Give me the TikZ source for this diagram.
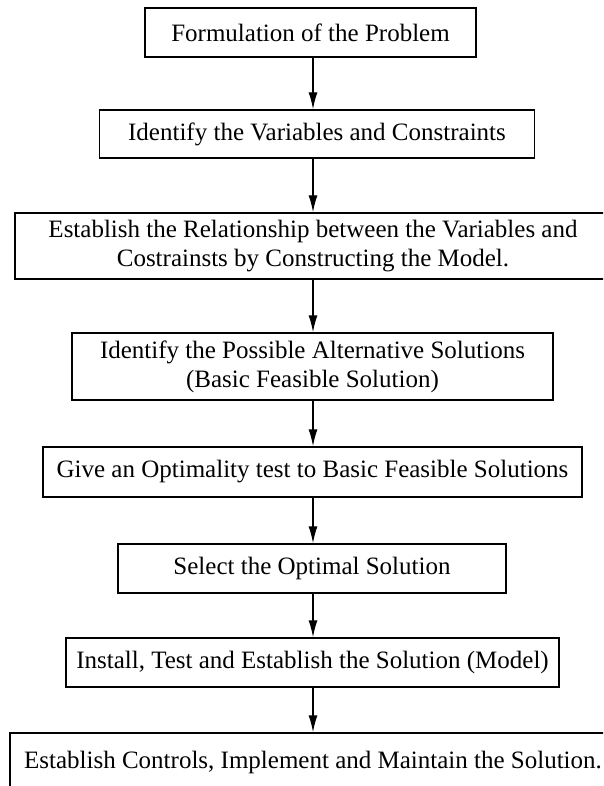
\documentclass[tikz,border=0pt]{standalone}
\usepackage{fontspec}
\setmainfont{Liberation Serif}
\usetikzlibrary{arrows.meta}

\tikzset{
  stage/.style={draw, line width=1.4pt, inner sep=2pt, align=center,
    font=\fontsize{25}{29}\selectfont},
  flow/.style={line width=1.4pt, -{Latex[length=17pt,width=9pt]}}
}

\begin{document}
\begin{tikzpicture}[x=1pt,y=-1pt]
  \useasboundingbox (0,0) rectangle (603,786);
  \clip (0,0) rectangle (603,786);
  \coordinate (axis) at (313,0);
  % Stages
  \node[stage, minimum width=331pt, minimum height=49pt] (problem) at (310.5,32.5) {Formulation of the Problem};
  \node[stage, minimum width=435pt, minimum height=48pt] (variables) at (317,134) {Identify the Variables and Constraints};
  \node[stage, minimum width=596pt, minimum height=66pt] (model) at (313,246) {Establish the Relationship between the Variables and\\Costrainsts by Constructing the Model.};
  \node[stage, minimum width=481pt, minimum height=67pt] (alternatives) at (312.5,366.5) {Identify the Possible Alternative Solutions\\(Basic Feasible Solution)};
  \node[stage, minimum width=539pt, minimum height=50pt] (optimality) at (312.5,472) {Give an Optimality test to Basic Feasible Solutions};
  \node[stage, minimum width=388pt, minimum height=49pt] (select) at (312,568.5) {Select the Optimal Solution};
  \node[stage, minimum width=493pt, minimum height=49pt] (install) at (312.5,662.5) {Install, Test and Establish the Solution (Model)};
  \node[stage, minimum width=606pt, minimum height=58pt] (controls) at (313,762) {Establish Controls, Implement and Maintain the Solution.};
  % Arrows
  \draw[flow] (problem.south -| axis) -- (variables.north -| axis);
  \draw[flow] (variables.south -| axis) -- (model.north -| axis);
  \draw[flow] (model.south -| axis) -- (alternatives.north -| axis);
  \draw[flow] (alternatives.south -| axis) -- (optimality.north -| axis);
  \draw[flow] (optimality.south -| axis) -- (select.north -| axis);
  \draw[flow] (select.south -| axis) -- (install.north -| axis);
  \draw[flow] (install.south -| axis) -- (controls.north -| axis);
\end{tikzpicture}
\end{document}
